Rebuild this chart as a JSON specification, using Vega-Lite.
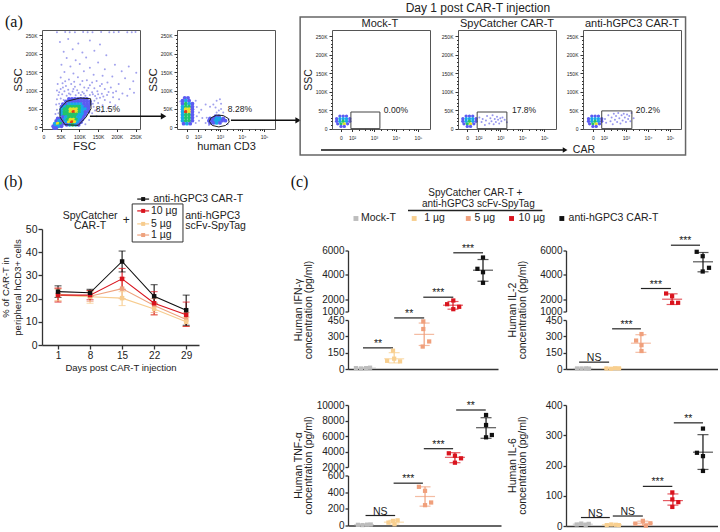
{"$schema":"https://vega.github.io/schema/vega-lite/v6.json","padding":{"left":0,"top":1,"right":0,"bottom":0},"background":"white","spacing":16,"resolve":{"scale":{"color":"independent"}},
"config":{"font":"Liberation Sans","view":{"stroke":null},"axis":{"grid":false,"labelColor":"#222","titleColor":"#222","titleFontWeight":"normal","domainColor":"#333","tickColor":"#333"},"title":{"fontWeight":"normal","fontSize":11,"color":"#222","offset":1}},
"datasets":{
"flow":[
{"p":"a","x":40,"y":258,"d":0},{"p":"a","x":62,"y":259,"d":0},{"p":"a","x":88,"y":258,"d":0},{"p":"a","x":110,"y":259,"d":0},{"p":"a","x":135,"y":258,"d":0},{"p":"a","x":158,"y":259,"d":0},{"p":"a","x":180,"y":258,"d":0},{"p":"a","x":205,"y":259,"d":0},{"p":"a","x":228,"y":258,"d":0},{"p":"a","x":250,"y":259,"d":0},{"p":"a","x":74,"y":258,"d":0},{"p":"a","x":122,"y":258,"d":0},{"p":"a","x":192,"y":258,"d":0},{"p":"a","x":240,"y":258,"d":0},
{"p":"a","x":48,"y":232,"d":0},{"p":"a","x":70,"y":240,"d":0},{"p":"a","x":97,"y":228,"d":0},{"p":"a","x":128,"y":236,"d":0},{"p":"a","x":155,"y":225,"d":0},{"p":"a","x":58,"y":205,"d":0},{"p":"a","x":82,"y":212,"d":0},{"p":"a","x":108,"y":203,"d":0},{"p":"a","x":140,"y":208,"d":0},{"p":"a","x":172,"y":196,"d":0},{"p":"a","x":66,"y":188,"d":0},{"p":"a","x":90,"y":182,"d":0},{"p":"a","x":118,"y":190,"d":0},{"p":"a","x":150,"y":176,"d":0},{"p":"a","x":195,"y":170,"d":0},{"p":"a","x":232,"y":165,"d":0},{"p":"a","x":52,"y":170,"d":0},{"p":"a","x":76,"y":165,"d":0},{"p":"a","x":101,"y":172,"d":0},{"p":"a","x":128,"y":162,"d":0},{"p":"a","x":168,"y":158,"d":0},{"p":"a","x":213,"y":152,"d":0},{"p":"a","x":252,"y":148,"d":0},
{"p":"a","x":60,"y":150,"d":0},{"p":"a","x":84,"y":146,"d":0},{"p":"a","x":112,"y":152,"d":0},{"p":"a","x":138,"y":143,"d":0},{"p":"a","x":162,"y":140,"d":0},{"p":"a","x":188,"y":138,"d":0},{"p":"a","x":222,"y":133,"d":0},{"p":"a","x":244,"y":125,"d":0},{"p":"a","x":50,"y":135,"d":0},{"p":"a","x":72,"y":130,"d":0},{"p":"a","x":96,"y":136,"d":0},{"p":"a","x":120,"y":128,"d":0},{"p":"a","x":146,"y":126,"d":0},{"p":"a","x":175,"y":122,"d":0},{"p":"a","x":205,"y":118,"d":0},{"p":"a","x":235,"y":104,"d":0},
{"p":"a","x":42,"y":118,"d":0},{"p":"a","x":55,"y":120,"d":0},{"p":"a","x":64,"y":112,"d":0},{"p":"a","x":78,"y":118,"d":0},{"p":"a","x":88,"y":110,"d":0},{"p":"a","x":102,"y":116,"d":0},{"p":"a","x":113,"y":108,"d":0},{"p":"a","x":128,"y":114,"d":0},{"p":"a","x":140,"y":106,"d":0},{"p":"a","x":155,"y":112,"d":0},{"p":"a","x":168,"y":104,"d":0},{"p":"a","x":184,"y":108,"d":0},{"p":"a","x":198,"y":98,"d":0},{"p":"a","x":215,"y":92,"d":0},{"p":"a","x":228,"y":86,"d":0},{"p":"a","x":246,"y":94,"d":0},
{"p":"a","x":40,"y":100,"d":0},{"p":"a","x":50,"y":104,"d":0},{"p":"a","x":60,"y":98,"d":0},{"p":"a","x":70,"y":102,"d":0},{"p":"a","x":82,"y":97,"d":0},{"p":"a","x":94,"y":101,"d":0},{"p":"a","x":108,"y":96,"d":0},{"p":"a","x":120,"y":100,"d":0},{"p":"a","x":134,"y":95,"d":0},{"p":"a","x":148,"y":98,"d":0},{"p":"a","x":160,"y":91,"d":0},{"p":"a","x":174,"y":88,"d":0},{"p":"a","x":190,"y":82,"d":0},{"p":"a","x":206,"y":76,"d":0},
{"p":"a","x":44,"y":88,"d":0},{"p":"a","x":54,"y":90,"d":0},{"p":"a","x":66,"y":86,"d":0},{"p":"a","x":76,"y":89,"d":0},{"p":"a","x":90,"y":87,"d":0},{"p":"a","x":104,"y":88,"d":0},{"p":"a","x":116,"y":86,"d":0},{"p":"a","x":128,"y":88,"d":0},{"p":"a","x":142,"y":85,"d":0},{"p":"a","x":155,"y":80,"d":0},{"p":"a","x":168,"y":74,"d":0},{"p":"a","x":182,"y":68,"d":0},{"p":"a","x":196,"y":60,"d":0},{"p":"a","x":40,"y":76,"d":0},{"p":"a","x":50,"y":78,"d":0},{"p":"a","x":58,"y":74,"d":0},{"p":"a","x":140,"y":72,"d":0},{"p":"a","x":150,"y":66,"d":0},{"p":"a","x":162,"y":60,"d":0},{"p":"a","x":176,"y":52,"d":0},{"p":"a","x":38,"y":62,"d":0},{"p":"a","x":46,"y":64,"d":0},{"p":"a","x":138,"y":56,"d":0},{"p":"a","x":148,"y":50,"d":0},{"p":"a","x":160,"y":42,"d":0},{"p":"a","x":40,"y":48,"d":0},{"p":"a","x":36,"y":36,"d":0},{"p":"a","x":44,"y":38,"d":0},{"p":"a","x":134,"y":38,"d":0},{"p":"a","x":146,"y":30,"d":0},{"p":"a","x":126,"y":20,"d":0},{"p":"a","x":116,"y":8,"d":0},
{"p":"a","x":46,"y":95,"d":0},{"p":"a","x":56,"y":108,"d":0},{"p":"a","x":72,"y":92,"d":0},{"p":"a","x":84,"y":104,"d":0},{"p":"a","x":98,"y":93,"d":0},{"p":"a","x":112,"y":92,"d":0},{"p":"a","x":124,"y":107,"d":0},{"p":"a","x":136,"y":90,"d":0},{"p":"a","x":150,"y":90,"d":0},{"p":"a","x":164,"y":84,"d":0},{"p":"a","x":178,"y":96,"d":0},{"p":"a","x":62,"y":125,"d":0},{"p":"a","x":86,"y":124,"d":0},{"p":"a","x":108,"y":126,"d":0},{"p":"a","x":134,"y":122,"d":0},{"p":"a","x":160,"y":118,"d":0},{"p":"a","x":190,"y":94,"d":0},{"p":"a","x":146,"y":78,"d":0},{"p":"a","x":136,"y":64,"d":0},{"p":"a","x":142,"y":46,"d":0},
{"p":"a","x":72,"y":77,"d":1},{"p":"a","x":80,"y":77,"d":1},{"p":"a","x":88,"y":77,"d":1},{"p":"a","x":96,"y":77,"d":1},{"p":"a","x":104,"y":77,"d":1},{"p":"a","x":112,"y":77,"d":1},{"p":"a","x":120,"y":77,"d":1},
{"p":"a","x":64,"y":70,"d":1},{"p":"a","x":72,"y":70,"d":1},{"p":"a","x":80,"y":70,"d":1},{"p":"a","x":88,"y":70,"d":1},{"p":"a","x":96,"y":70,"d":1},{"p":"a","x":104,"y":70,"d":1},{"p":"a","x":112,"y":70,"d":1},{"p":"a","x":120,"y":70,"d":1},{"p":"a","x":128,"y":70,"d":1},
{"p":"a","x":56,"y":63,"d":1},{"p":"a","x":64,"y":63,"d":1},{"p":"a","x":72,"y":63,"d":2},{"p":"a","x":80,"y":63,"d":2},{"p":"a","x":88,"y":63,"d":2},{"p":"a","x":96,"y":63,"d":2},{"p":"a","x":104,"y":63,"d":2},{"p":"a","x":112,"y":63,"d":1},{"p":"a","x":120,"y":63,"d":1},{"p":"a","x":128,"y":63,"d":1},
{"p":"a","x":52,"y":56,"d":1},{"p":"a","x":60,"y":56,"d":2},{"p":"a","x":68,"y":56,"d":3},{"p":"a","x":76,"y":56,"d":3},{"p":"a","x":84,"y":56,"d":3},{"p":"a","x":92,"y":56,"d":3},{"p":"a","x":100,"y":56,"d":3},{"p":"a","x":108,"y":56,"d":2},{"p":"a","x":116,"y":56,"d":1},{"p":"a","x":124,"y":56,"d":1},
{"p":"a","x":52,"y":49,"d":2},{"p":"a","x":60,"y":49,"d":3},{"p":"a","x":68,"y":49,"d":3},{"p":"a","x":76,"y":49,"d":4},{"p":"a","x":84,"y":49,"d":4},{"p":"a","x":92,"y":49,"d":4},{"p":"a","x":100,"y":49,"d":3},{"p":"a","x":108,"y":49,"d":2},{"p":"a","x":116,"y":49,"d":2},{"p":"a","x":124,"y":49,"d":1},
{"p":"a","x":52,"y":42,"d":2},{"p":"a","x":60,"y":42,"d":3},{"p":"a","x":68,"y":42,"d":3},{"p":"a","x":76,"y":42,"d":4},{"p":"a","x":84,"y":42,"d":5},{"p":"a","x":92,"y":42,"d":4},{"p":"a","x":100,"y":42,"d":3},{"p":"a","x":108,"y":42,"d":2},{"p":"a","x":116,"y":42,"d":1},{"p":"a","x":124,"y":42,"d":1},
{"p":"a","x":52,"y":35,"d":2},{"p":"a","x":60,"y":35,"d":3},{"p":"a","x":68,"y":35,"d":3},{"p":"a","x":76,"y":35,"d":3},{"p":"a","x":84,"y":35,"d":3},{"p":"a","x":92,"y":35,"d":3},{"p":"a","x":100,"y":35,"d":2},{"p":"a","x":108,"y":35,"d":2},{"p":"a","x":116,"y":35,"d":1},
{"p":"a","x":56,"y":28,"d":1},{"p":"a","x":64,"y":28,"d":2},{"p":"a","x":72,"y":28,"d":3},{"p":"a","x":80,"y":28,"d":3},{"p":"a","x":88,"y":28,"d":3},{"p":"a","x":96,"y":28,"d":2},{"p":"a","x":104,"y":28,"d":2},{"p":"a","x":112,"y":28,"d":1},
{"p":"a","x":60,"y":21,"d":2},{"p":"a","x":68,"y":21,"d":3},{"p":"a","x":76,"y":21,"d":4},{"p":"a","x":84,"y":21,"d":4},{"p":"a","x":92,"y":21,"d":3},{"p":"a","x":100,"y":21,"d":2},{"p":"a","x":108,"y":21,"d":1},
{"p":"a","x":64,"y":14,"d":2},{"p":"a","x":72,"y":14,"d":4},{"p":"a","x":80,"y":14,"d":5},{"p":"a","x":88,"y":14,"d":4},{"p":"a","x":96,"y":14,"d":2},{"p":"a","x":104,"y":14,"d":1},
{"p":"a","x":66,"y":7,"d":1},{"p":"a","x":74,"y":7,"d":2},{"p":"a","x":82,"y":7,"d":3},{"p":"a","x":90,"y":7,"d":2},{"p":"a","x":98,"y":7,"d":1},
{"p":"a","x":42,"y":24,"d":1},{"p":"a","x":50,"y":24,"d":1},{"p":"a","x":38,"y":17,"d":1},{"p":"a","x":46,"y":17,"d":2},{"p":"a","x":54,"y":17,"d":1},{"p":"a","x":34,"y":10,"d":2},{"p":"a","x":42,"y":10,"d":4},{"p":"a","x":50,"y":10,"d":3},{"p":"a","x":58,"y":10,"d":1},{"p":"a","x":30,"y":3,"d":1},{"p":"a","x":36,"y":3,"d":2},{"p":"a","x":44,"y":3,"d":2},{"p":"a","x":52,"y":3,"d":1},{"p":"a","x":32,"y":-2,"d":1},{"p":"a","x":38,"y":-2,"d":1},
{"p":"b","x":1.2,"y":70,"d":0},{"p":"b","x":1.9,"y":72,"d":0},{"p":"b","x":1.95,"y":55,"d":0},{"p":"b","x":2.05,"y":40,"d":0},{"p":"b","x":2.2,"y":25,"d":0},{"p":"b","x":1.95,"y":30,"d":0},{"p":"b","x":2.05,"y":18,"d":0},{"p":"b","x":1.9,"y":12,"d":0},{"p":"b","x":2.15,"y":48,"d":0},{"p":"b","x":2.35,"y":62,"d":0},{"p":"b","x":2.55,"y":56,"d":0},{"p":"b","x":2.7,"y":62,"d":0},{"p":"b","x":2.85,"y":72,"d":0},{"p":"b","x":3,"y":76,"d":0},{"p":"b","x":3.05,"y":64,"d":0},{"p":"b","x":2.8,"y":54,"d":0},{"p":"b","x":2.95,"y":46,"d":0},{"p":"b","x":2.85,"y":40,"d":0},{"p":"b","x":3.05,"y":50,"d":0},{"p":"b","x":3.15,"y":40,"d":0},{"p":"b","x":2.4,"y":26,"d":0},{"p":"b","x":2.35,"y":12,"d":0},{"p":"b","x":3.4,"y":22,"d":0},{"p":"b","x":3.35,"y":8,"d":0},{"p":"b","x":2.5,"y":6,"d":0},
{"p":"b","x":1.4,"y":80,"d":1},{"p":"b","x":1.55,"y":80,"d":1},{"p":"b","x":1.3,"y":72,"d":1},{"p":"b","x":1.45,"y":72,"d":2},{"p":"b","x":1.6,"y":72,"d":1},{"p":"b","x":1.3,"y":64,"d":1},{"p":"b","x":1.45,"y":64,"d":3},{"p":"b","x":1.6,"y":64,"d":2},{"p":"b","x":1.75,"y":64,"d":1},{"p":"b","x":1.3,"y":56,"d":2},{"p":"b","x":1.45,"y":56,"d":3},{"p":"b","x":1.6,"y":56,"d":3},{"p":"b","x":1.75,"y":56,"d":1},{"p":"b","x":1.3,"y":49,"d":2},{"p":"b","x":1.45,"y":49,"d":4},{"p":"b","x":1.6,"y":49,"d":4},{"p":"b","x":1.75,"y":49,"d":1},{"p":"b","x":1.3,"y":42,"d":2},{"p":"b","x":1.45,"y":42,"d":5},{"p":"b","x":1.6,"y":42,"d":4},{"p":"b","x":1.75,"y":42,"d":1},{"p":"b","x":1.3,"y":34,"d":2},{"p":"b","x":1.45,"y":34,"d":3},{"p":"b","x":1.6,"y":34,"d":3},{"p":"b","x":1.75,"y":34,"d":1},{"p":"b","x":1.3,"y":26,"d":2},{"p":"b","x":1.45,"y":26,"d":3},{"p":"b","x":1.6,"y":26,"d":3},{"p":"b","x":1.75,"y":26,"d":1},{"p":"b","x":1.3,"y":18,"d":2},{"p":"b","x":1.45,"y":18,"d":3},{"p":"b","x":1.6,"y":18,"d":3},{"p":"b","x":1.75,"y":18,"d":1},{"p":"b","x":1.35,"y":10,"d":1},{"p":"b","x":1.5,"y":10,"d":2},{"p":"b","x":1.65,"y":10,"d":1},
{"p":"b","x":2.8,"y":30,"d":1},{"p":"b","x":2.95,"y":30,"d":1},{"p":"b","x":2.55,"y":24,"d":1},{"p":"b","x":2.7,"y":24,"d":1},{"p":"b","x":2.85,"y":24,"d":2},{"p":"b","x":3,"y":24,"d":2},{"p":"b","x":3.15,"y":24,"d":1},{"p":"b","x":2.5,"y":18,"d":1},{"p":"b","x":2.65,"y":18,"d":1},{"p":"b","x":2.8,"y":18,"d":2},{"p":"b","x":2.95,"y":18,"d":2},{"p":"b","x":3.1,"y":18,"d":1},{"p":"b","x":3.25,"y":18,"d":1},{"p":"b","x":2.55,"y":12,"d":1},{"p":"b","x":2.7,"y":12,"d":1},{"p":"b","x":2.85,"y":12,"d":2},{"p":"b","x":3,"y":12,"d":1},
{"p":"c","x":1.45,"y":34,"d":1},{"p":"c","x":1.6,"y":34,"d":1},{"p":"c","x":1.75,"y":34,"d":1},{"p":"c","x":1.3,"y":27,"d":1},{"p":"c","x":1.45,"y":27,"d":2},{"p":"c","x":1.6,"y":27,"d":2},{"p":"c","x":1.75,"y":27,"d":2},{"p":"c","x":1.9,"y":27,"d":1},{"p":"c","x":1.3,"y":20,"d":1},{"p":"c","x":1.45,"y":20,"d":2},{"p":"c","x":1.6,"y":20,"d":3},{"p":"c","x":1.75,"y":20,"d":2},{"p":"c","x":1.9,"y":20,"d":1},{"p":"c","x":1.35,"y":13,"d":1},{"p":"c","x":1.5,"y":13,"d":3},{"p":"c","x":1.65,"y":13,"d":4},{"p":"c","x":1.8,"y":13,"d":1},{"p":"c","x":1.5,"y":6,"d":1},{"p":"c","x":1.65,"y":6,"d":1},
{"p":"d","x":2.05,"y":30,"d":0},{"p":"d","x":2.15,"y":18,"d":0},{"p":"d","x":2.2,"y":26,"d":0},{"p":"d","x":2.3,"y":10,"d":0},{"p":"d","x":2.35,"y":22,"d":0},{"p":"d","x":2.4,"y":34,"d":0},{"p":"d","x":2.5,"y":14,"d":0},{"p":"d","x":2.55,"y":28,"d":0},{"p":"d","x":2.6,"y":20,"d":0},{"p":"d","x":2.65,"y":36,"d":0},{"p":"d","x":2.7,"y":12,"d":0},{"p":"d","x":2.75,"y":26,"d":0},{"p":"d","x":2.8,"y":18,"d":0},{"p":"d","x":2.85,"y":32,"d":0},{"p":"d","x":2.9,"y":24,"d":0},{"p":"d","x":2.95,"y":14,"d":0},{"p":"d","x":3,"y":28,"d":0},{"p":"d","x":3.05,"y":20,"d":0},{"p":"d","x":3.1,"y":30,"d":0},{"p":"d","x":3.2,"y":24,"d":0},{"p":"d","x":3.3,"y":17,"d":0},
{"p":"e","x":2.05,"y":26,"d":0},{"p":"e","x":2.1,"y":16,"d":0},{"p":"e","x":2.2,"y":36,"d":0},{"p":"e","x":2.3,"y":20,"d":0},{"p":"e","x":2.35,"y":30,"d":0},{"p":"e","x":2.4,"y":12,"d":0},{"p":"e","x":2.45,"y":40,"d":0},{"p":"e","x":2.5,"y":24,"d":0},{"p":"e","x":2.55,"y":34,"d":0},{"p":"e","x":2.6,"y":18,"d":0},{"p":"e","x":2.65,"y":42,"d":0},{"p":"e","x":2.7,"y":28,"d":0},{"p":"e","x":2.75,"y":14,"d":0},{"p":"e","x":2.8,"y":36,"d":0},{"p":"e","x":2.85,"y":22,"d":0},{"p":"e","x":2.9,"y":40,"d":0},{"p":"e","x":2.95,"y":30,"d":0},{"p":"e","x":3,"y":18,"d":0},{"p":"e","x":3.05,"y":38,"d":0},{"p":"e","x":3.1,"y":26,"d":0},{"p":"e","x":3.15,"y":34,"d":0},{"p":"e","x":3.2,"y":20,"d":0},{"p":"e","x":3.25,"y":42,"d":0},{"p":"e","x":3.35,"y":28,"d":0}
],
"gate1":[{"o":1,"x":48,"y":50.5},{"o":2,"x":66,"y":70.6},{"o":3,"x":101.6,"y":79.6},{"o":4,"x":130,"y":77.7},{"o":5,"x":131,"y":50.5},{"o":6,"x":118,"y":28},{"o":7,"x":97,"y":5.4},{"o":8,"x":61.5,"y":7},{"o":9,"x":48,"y":28},{"o":10,"x":48,"y":50.5}],
"gate2":[{"o":1,"x":2.52,"y":16},{"o":2,"x":2.6,"y":26},{"o":3,"x":2.85,"y":33},{"o":4,"x":3.15,"y":32},{"o":5,"x":3.38,"y":24},{"o":6,"x":3.42,"y":14},{"o":7,"x":3.25,"y":5},{"o":8,"x":2.95,"y":1},{"o":9,"x":2.65,"y":5},{"o":10,"x":2.52,"y":16}],
"bs":[{"s":"1 µg","day":1,"m":21.8,"l":19,"h":24.5},{"s":"1 µg","day":8,"m":21,"l":18.8,"h":23.5},{"s":"1 µg","day":15,"m":24.3,"l":20,"h":29},{"s":"1 µg","day":22,"m":17,"l":14,"h":20},{"s":"1 µg","day":29,"m":11,"l":8,"h":14},
{"s":"5 µg","day":1,"m":21.5,"l":19,"h":24},{"s":"5 µg","day":8,"m":20.8,"l":18,"h":23},{"s":"5 µg","day":15,"m":20.2,"l":17,"h":23},{"s":"5 µg","day":22,"m":15.5,"l":13,"h":18},{"s":"5 µg","day":29,"m":10,"l":8,"h":12},
{"s":"10 µg","day":1,"m":21.5,"l":18.5,"h":24.5},{"s":"10 µg","day":8,"m":21.5,"l":19.5,"h":23.5},{"s":"10 µg","day":15,"m":28.5,"l":24,"h":33},{"s":"10 µg","day":22,"m":18,"l":13,"h":23},{"s":"10 µg","day":29,"m":13,"l":8,"h":18.5},
{"s":"anti-hGPC3 CAR-T","day":1,"m":23,"l":20.5,"h":25.5},{"s":"anti-hGPC3 CAR-T","day":8,"m":22.5,"l":21,"h":24},{"s":"anti-hGPC3 CAR-T","day":15,"m":36,"l":31.5,"h":40.5},{"s":"anti-hGPC3 CAR-T","day":22,"m":21,"l":18,"h":26},{"s":"anti-hGPC3 CAR-T","day":29,"m":15,"l":8.5,"h":21.5}],
"bleg":[{"s":"anti-hGPC3 CAR-T","x":18.3,"y":62.9},{"s":"anti-hGPC3 CAR-T","x":20.9,"y":62.9},{"s":"10 µg","x":18.3,"y":57.8},{"s":"10 µg","x":20.9,"y":57.8},{"s":"5 µg","x":18.3,"y":52.2},{"s":"5 µg","x":20.9,"y":52.2},{"s":"1 µg","x":18.3,"y":47.4},{"s":"1 µg","x":20.9,"y":47.4}],
"pts":[
{"p":"IFNl","g":"Mock-T","x":0.66,"y":8},{"p":"IFNl","g":"Mock-T","x":0.83,"y":5},{"p":"IFNl","g":"Mock-T","x":1,"y":8},{"p":"IFNl","g":"Mock-T","x":1.14,"y":12},
{"p":"IFNl","g":"1 µg","x":1.72,"y":75},{"p":"IFNl","g":"1 µg","x":1.92,"y":168},{"p":"IFNl","g":"1 µg","x":1.96,"y":95},{"p":"IFNl","g":"1 µg","x":2.16,"y":70},
{"p":"IFNl","g":"5 µg","x":2.95,"y":437},{"p":"IFNl","g":"5 µg","x":2.95,"y":367},{"p":"IFNl","g":"5 µg","x":3.15,"y":253},{"p":"IFNl","g":"5 µg","x":2.93,"y":206},
{"p":"IFNu","g":"10 µg","x":3.97,"y":1902},{"p":"IFNu","g":"10 µg","x":3.76,"y":1598},{"p":"IFNu","g":"10 µg","x":4.17,"y":1385},{"p":"IFNu","g":"10 µg","x":3.97,"y":1190},
{"p":"IFNu","g":"anti","x":4.98,"y":5426},{"p":"IFNu","g":"anti","x":4.79,"y":4500},{"p":"IFNu","g":"anti","x":4.98,"y":4220},{"p":"IFNu","g":"anti","x":4.98,"y":3350},
{"p":"IL2l","g":"Mock-T","x":0.8,"y":5},{"p":"IL2l","g":"Mock-T","x":0.95,"y":5},{"p":"IL2l","g":"Mock-T","x":1.1,"y":6},{"p":"IL2l","g":"Mock-T","x":1.2,"y":4},
{"p":"IL2l","g":"1 µg","x":1.78,"y":5},{"p":"IL2l","g":"1 µg","x":1.93,"y":2},{"p":"IL2l","g":"1 µg","x":2.07,"y":7},{"p":"IL2l","g":"1 µg","x":2.2,"y":6},
{"p":"IL2l","g":"5 µg","x":2.95,"y":321},{"p":"IL2l","g":"5 µg","x":2.77,"y":261},{"p":"IL2l","g":"5 µg","x":2.95,"y":219},{"p":"IL2l","g":"5 µg","x":2.95,"y":165},
{"p":"IL2u","g":"10 µg","x":3.77,"y":2475},{"p":"IL2u","g":"10 µg","x":3.97,"y":2254},{"p":"IL2u","g":"10 µg","x":3.97,"y":1713},{"p":"IL2u","g":"10 µg","x":4.17,"y":1713},
{"p":"IL2u","g":"anti","x":4.79,"y":5893},{"p":"IL2u","g":"anti","x":4.99,"y":5533},{"p":"IL2u","g":"anti","x":5.2,"y":4582},{"p":"IL2u","g":"anti","x":4.99,"y":4279},
{"p":"TNFl","g":"Mock-T","x":0.8,"y":8},{"p":"TNFl","g":"Mock-T","x":0.95,"y":5},{"p":"TNFl","g":"Mock-T","x":1.1,"y":10},{"p":"TNFl","g":"Mock-T","x":1.22,"y":12},
{"p":"TNFl","g":"1 µg","x":1.8,"y":35},{"p":"TNFl","g":"1 µg","x":1.95,"y":55},{"p":"TNFl","g":"1 µg","x":2.1,"y":62},{"p":"TNFl","g":"1 µg","x":2,"y":15},
{"p":"TNFl","g":"5 µg","x":2.8,"y":464},{"p":"TNFl","g":"5 µg","x":3,"y":416},{"p":"TNFl","g":"5 µg","x":3.2,"y":276},{"p":"TNFl","g":"5 µg","x":3,"y":244},
{"p":"TNFu","g":"10 µg","x":3.78,"y":3768},{"p":"TNFu","g":"10 µg","x":3.98,"y":3458},{"p":"TNFu","g":"10 µg","x":4.18,"y":3120},{"p":"TNFu","g":"10 µg","x":3.98,"y":2555},
{"p":"TNFu","g":"anti","x":5,"y":8710},{"p":"TNFu","g":"anti","x":5,"y":7419},{"p":"TNFu","g":"anti","x":5.19,"y":6129},{"p":"TNFu","g":"anti","x":5,"y":5830},
{"p":"IL6","g":"Mock-T","x":0.8,"y":5},{"p":"IL6","g":"Mock-T","x":0.95,"y":8},{"p":"IL6","g":"Mock-T","x":1.1,"y":4},{"p":"IL6","g":"Mock-T","x":1.2,"y":7},
{"p":"IL6","g":"1 µg","x":1.8,"y":3},{"p":"IL6","g":"1 µg","x":1.95,"y":5},{"p":"IL6","g":"1 µg","x":2.1,"y":4},{"p":"IL6","g":"1 µg","x":2.2,"y":3},
{"p":"IL6","g":"5 µg","x":2.75,"y":8},{"p":"IL6","g":"5 µg","x":3,"y":17},{"p":"IL6","g":"5 µg","x":3.1,"y":1},{"p":"IL6","g":"5 µg","x":3.25,"y":9},
{"p":"IL6","g":"10 µg","x":3.98,"y":111},{"p":"IL6","g":"10 µg","x":3.98,"y":88},{"p":"IL6","g":"10 µg","x":4.18,"y":79},{"p":"IL6","g":"10 µg","x":3.98,"y":63},
{"p":"IL6","g":"anti","x":5,"y":322},{"p":"IL6","g":"anti","x":4.8,"y":242},{"p":"IL6","g":"anti","x":5,"y":231},{"p":"IL6","g":"anti","x":5,"y":182}],
"st":[
{"p":"IFNl","g":"Mock-T","x":1,"m":8,"l":4,"h":12},{"p":"IFNl","g":"1 µg","x":1.96,"m":94,"l":56,"h":150},{"p":"IFNl","g":"5 µg","x":2.98,"m":318,"l":216,"h":422},{"p":"IFNu","g":"10 µg","x":3.96,"m":1516,"l":1190,"h":1820},{"p":"IFNu","g":"anti","x":4.98,"m":4385,"l":3480,"h":5260},
{"p":"IL2l","g":"Mock-T","x":1,"m":5,"l":3,"h":7},{"p":"IL2l","g":"1 µg","x":1.97,"m":5,"l":3,"h":7},{"p":"IL2l","g":"5 µg","x":2.93,"m":237,"l":153,"h":315},{"p":"IL2u","g":"10 µg","x":3.97,"m":2008,"l":1574,"h":2450},{"p":"IL2u","g":"anti","x":5,"m":5074,"l":4254,"h":5836},
{"p":"TNFl","g":"Mock-T","x":1,"m":9,"l":4,"h":14},{"p":"TNFl","g":"1 µg","x":1.98,"m":40,"l":18,"h":62},{"p":"TNFl","g":"5 µg","x":3,"m":348,"l":232,"h":464},{"p":"TNFu","g":"10 µg","x":3.98,"m":3247,"l":2555,"h":3845},{"p":"TNFu","g":"anti","x":5,"m":7071,"l":5703,"h":8361},
{"p":"IL6","g":"Mock-T","x":1,"m":6,"l":3,"h":9},{"p":"IL6","g":"1 µg","x":1.97,"m":4,"l":2,"h":6},{"p":"IL6","g":"5 µg","x":3,"m":9,"l":2,"h":16},{"p":"IL6","g":"10 µg","x":4,"m":84,"l":69,"h":106},{"p":"IL6","g":"anti","x":5,"m":244,"l":187,"h":302}],
"br":[
{"p":"IFNl","x":0.9,"xe":1.92,"xm":1.41,"y":194,"t":"**"},{"p":"IFNl","x":1.96,"xe":2.98,"xm":2.47,"y":469,"t":"**"},{"p":"IFNu","x":2.95,"xe":3.97,"xm":3.46,"y":2172,"t":"***"},{"p":"IFNu","x":3.97,"xe":4.98,"xm":4.47,"y":5811,"t":"***"},
{"p":"IL2l","x":0.87,"xe":1.87,"xm":1.37,"y":63,"t":"NS"},{"p":"IL2l","x":1.97,"xe":2.93,"xm":2.45,"y":369,"t":"***"},{"p":"IL2u","x":2.93,"xe":3.93,"xm":3.43,"y":2885,"t":"***"},{"p":"IL2u","x":3.93,"xe":4.9,"xm":4.41,"y":6434,"t":"***"},
{"p":"TNFl","x":1.05,"xe":2.02,"xm":1.53,"y":120,"t":"NS"},{"p":"TNFl","x":1.97,"xe":2.93,"xm":2.45,"y":508,"t":"***"},{"p":"TNFu","x":2.96,"xe":3.92,"xm":3.44,"y":4361,"t":"***"},{"p":"TNFu","x":4.02,"xe":4.99,"xm":4.5,"y":9355,"t":"**"},
{"p":"IL6","x":0.94,"xe":1.9,"xm":1.42,"y":28,"t":"NS"},{"p":"IL6","x":2,"xe":3,"xm":2.5,"y":33,"t":"NS"},{"p":"IL6","x":3,"xe":3.98,"xm":3.49,"y":131,"t":"***"},{"p":"IL6","x":4.03,"xe":5,"xm":4.51,"y":341,"t":"**"}]
},
"vconcat":[
{"hconcat":[
{"width":98,"height":99,"view":{"stroke":"#555","strokeWidth":1},"encoding":{
"x":{"type":"quantitative","field":"x","title":"FSC","scale":{"domain":[0,262],"nice":false},"axis":{"values":[0,50,100,150,200,250],"labelExpr":"datum.value==0?'0':datum.value+'K'","labelFontSize":5,"tickSize":2.5,"labelPadding":3,"titleFontSize":11.5,"titlePadding":1,"titleX":42,"domain":false}},
"y":{"type":"quantitative","field":"y","title":"SSC","scale":{"domain":[-4.6,264.4],"nice":false},"axis":{"values":[0,10,20,30,40,50,60,70,80,90,100,110,120,130,140,150,160,170,180,190,200,210,220,230,240,250],"labelExpr":"datum.value%50==0?(datum.value==0?'0':datum.value+'K'):''","labelFontSize":5,"labelOverlap":false,"tickSize":{"condition":{"test":"datum.value%50==0","value":3},"value":1.5},"labelPadding":2,"titleFontSize":11.5,"titlePadding":2,"domain":false}}},
"layer":[
{"data":{"name":"flow"},"transform":[{"filter":"datum.p=='a'&&datum.d==0"}],"mark":{"type":"circle","size":4,"color":"#8a8ae8","opacity":0.8}},
{"data":{"name":"flow"},"transform":[{"filter":"datum.p=='a'&&datum.d>0"}],"mark":{"type":"circle","size":15,"opacity":1},"encoding":{"color":{"field":"d","type":"ordinal","legend":null,"scale":{"domain":[1,2,3,4,5],"range":["#5c5cf2","#18a8e8","#22c46a","#e6e224","#e63a18"]}}}},
{"data":{"name":"gate1"},"mark":{"type":"line","color":"#222","strokeWidth":1},"encoding":{"order":{"field":"o","type":"quantitative"}}},
{"data":{"values":[{"x":128,"xe":322,"y":30}]},"mark":{"type":"rule","color":"#111","strokeWidth":1.5},"encoding":{"x2":{"field":"xe"}}},
{"data":{"values":[{"x":325,"y":30}]},"mark":{"type":"point","shape":"triangle-right","filled":true,"size":40,"color":"#111","opacity":1}},
{"data":{"values":[{"x":144,"y":49,"t":"81.5%"}]},"mark":{"type":"text","align":"left","fontSize":8.5,"color":"#222"},"encoding":{"text":{"field":"t"}}},
{"data":{"values":[{"x":-99,"y":285,"t":"(a)"}]},"mark":{"type":"text","align":"left","fontSize":16,"font":"Liberation Serif","color":"#111"},"encoding":{"text":{"field":"t"}}}
]},
{"width":37,"height":0,"data":{"values":[]},"mark":"point"},
{"width":98,"height":99,"view":{"stroke":"#555","strokeWidth":1},"encoding":{
"x":{"type":"quantitative","field":"x","title":"human CD3","scale":{"domain":[1.05,5.5],"nice":false},"axis":{"values":[1.5,2,2.3,2.6,2.8,2.9,3,3.3,3.6,3.8,3.9,4,4.3,4.6,4.8,4.9,5],"labelExpr":"datum.value==1.5?'0':datum.value==2?'10²':datum.value==3?'10³':datum.value==4?'10⁴':datum.value==5?'10⁵':''","labelFontSize":5,"labelOverlap":false,"tickSize":{"condition":{"test":"datum.value==1.5||datum.value%1==0","value":2.5},"value":1.5},"labelPadding":3,"titleFontSize":11,"titlePadding":1,"domain":false}},
"y":{"type":"quantitative","field":"y","title":"SSC","scale":{"domain":[-4.6,264.4],"nice":false},"axis":{"values":[0,10,20,30,40,50,60,70,80,90,100,110,120,130,140,150,160,170,180,190,200,210,220,230,240,250],"labelExpr":"datum.value%50==0?(datum.value==0?'0':datum.value+'K'):''","labelFontSize":5,"labelOverlap":false,"tickSize":{"condition":{"test":"datum.value%50==0","value":3},"value":1.5},"labelPadding":2,"titleFontSize":11.5,"titlePadding":2,"domain":false}}},
"layer":[
{"data":{"name":"flow"},"transform":[{"filter":"datum.p=='b'&&datum.d==0"}],"mark":{"type":"circle","size":4,"color":"#8a8ae8","opacity":0.8}},
{"data":{"name":"flow"},"transform":[{"filter":"datum.p=='b'&&datum.d>0"}],"mark":{"type":"circle","size":15,"opacity":1},"encoding":{"color":{"field":"d","type":"ordinal","legend":null,"scale":{"domain":[1,2,3,4,5],"range":["#5c5cf2","#18a8e8","#22c46a","#e6e224","#e63a18"]}}}},
{"data":{"name":"gate2"},"mark":{"type":"line","color":"#222","strokeWidth":1},"encoding":{"order":{"field":"o","type":"quantitative"}}},
{"data":{"values":[{"x":3.5,"xe":6.45,"y":19}]},"mark":{"type":"rule","color":"#111","strokeWidth":1.5},"encoding":{"x2":{"field":"xe"}}},
{"data":{"values":[{"x":6.55,"y":19}]},"mark":{"type":"point","shape":"triangle-right","filled":true,"size":40,"color":"#111","opacity":1}},
{"data":{"values":[{"x":3.36,"y":49,"t":"8.28%"}]},"mark":{"type":"text","align":"left","fontSize":8.5,"color":"#222"},"encoding":{"text":{"field":"t"}}}
]},
{"width":57,"height":0,"data":{"values":[]},"mark":"point"},
{"width":98,"height":99,"view":{"stroke":"#555","strokeWidth":1},"encoding":{
"x":{"type":"quantitative","field":"x","title":null,"scale":{"domain":[1.09,5.55],"nice":false},"axis":{"values":[1.5,2,2.3,2.6,2.8,2.9,3,3.3,3.6,3.8,3.9,4,4.3,4.6,4.8,4.9,5],"labelExpr":"datum.value==1.5?'0':datum.value==2?'10²':datum.value==3?'10³':datum.value==4?'10⁴':datum.value==5?'10⁵':''","labelFontSize":5,"labelOverlap":false,"tickSize":{"condition":{"test":"datum.value==1.5||datum.value%1==0","value":2.5},"value":1.5},"labelPadding":4,"domain":false}},
"y":{"type":"quantitative","field":"y","title":"SSC","scale":{"domain":[-1,267],"nice":false},"axis":{"values":[0,10,20,30,40,50,60,70,80,90,100,110,120,130,140,150,160,170,180,190,200,210,220,230,240,250],"labelExpr":"datum.value%50==0?(datum.value==0?'0':datum.value+'K'):''","labelFontSize":5,"labelOverlap":false,"tickSize":{"condition":{"test":"datum.value%50==0","value":3},"value":1.5},"labelPadding":2,"titleFontSize":10.5,"titlePadding":2,"domain":false}}},
"layer":[
{"data":{"name":"flow"},"transform":[{"filter":"datum.p=='c'"}],"mark":{"type":"circle","size":11,"opacity":1},"encoding":{"color":{"field":"d","type":"ordinal","legend":null,"scale":{"domain":[1,2,3,4,5],"range":["#5c5cf2","#18a8e8","#22c46a","#e6e224","#e63a18"]}}}},
{"data":{"values":[{"x":1.95,"xe":3.27,"y":0,"ye":45}]},"mark":{"type":"rect","fillOpacity":0,"stroke":"#444","strokeWidth":1},"encoding":{"x2":{"field":"xe"},"y2":{"field":"ye"}}},
{"data":{"values":[{"x":-0.36,"xe":17.18,"y":-71.5,"ye":302.5}]},"mark":{"type":"rect","fillOpacity":0,"stroke":"#666","strokeWidth":1.5},"encoding":{"x2":{"field":"xe"},"y2":{"field":"ye"}}},
{"data":{"values":[{"x":0.59,"xe":11.6,"y":-58}]},"mark":{"type":"rule","color":"#111","strokeWidth":1.5},"encoding":{"x2":{"field":"xe"}}},
{"data":{"values":[{"x":11.7,"y":-58}]},"mark":{"type":"point","shape":"triangle-right","filled":true,"size":30,"color":"#111","opacity":1}},
{"data":{"values":[{"x":12.05,"y":-58,"t":"CAR"}]},"mark":{"type":"text","align":"left","fontSize":10.5,"color":"#222"},"encoding":{"text":{"field":"t"}}},
{"data":{"values":[{"x":7.73,"y":327,"t":"Day 1 post CAR-T injection"}]},"mark":{"type":"text","fontSize":12,"color":"#222"},"encoding":{"text":{"field":"t"}}},
{"data":{"values":[{"x":3.27,"y":284,"t":"Mock-T"}]},"mark":{"type":"text","fontSize":11,"color":"#222"},"encoding":{"text":{"field":"t"}}},
{"data":{"values":[{"x":3.45,"y":50,"t":"0.00%"}]},"mark":{"type":"text","align":"left","fontSize":8.5,"color":"#222"},"encoding":{"text":{"field":"t"}}}
]},
{"width":28,"height":0,"data":{"values":[]},"mark":"point"},
{"width":98,"height":99,"view":{"stroke":"#555","strokeWidth":1},"title":"SpyCatcher CAR-T","encoding":{
"x":{"type":"quantitative","field":"x","title":null,"scale":{"domain":[1.08,5.53],"nice":false},"axis":{"values":[1.5,2,2.3,2.6,2.8,2.9,3,3.3,3.6,3.8,3.9,4,4.3,4.6,4.8,4.9,5],"labelExpr":"datum.value==1.5?'0':datum.value==2?'10²':datum.value==3?'10³':datum.value==4?'10⁴':datum.value==5?'10⁵':''","labelFontSize":5,"labelOverlap":false,"tickSize":{"condition":{"test":"datum.value==1.5||datum.value%1==0","value":2.5},"value":1.5},"labelPadding":4,"domain":false}},
"y":{"type":"quantitative","field":"y","title":null,"scale":{"domain":[-1,267],"nice":false},"axis":{"values":[0,10,20,30,40,50,60,70,80,90,100,110,120,130,140,150,160,170,180,190,200,210,220,230,240,250],"labelExpr":"datum.value%50==0?(datum.value==0?'0':datum.value+'K'):''","labelFontSize":5,"labelOverlap":false,"tickSize":{"condition":{"test":"datum.value%50==0","value":3},"value":1.5},"labelPadding":2,"domain":false}}},
"layer":[
{"data":{"name":"flow"},"transform":[{"filter":"datum.p=='d'"}],"mark":{"type":"circle","size":4,"color":"#7c7ce8","opacity":0.8}},
{"data":{"name":"flow"},"transform":[{"filter":"datum.p=='c'"}],"mark":{"type":"circle","size":11,"opacity":1},"encoding":{"color":{"field":"d","type":"ordinal","legend":null,"scale":{"domain":[1,2,3,4,5],"range":["#5c5cf2","#18a8e8","#22c46a","#e6e224","#e63a18"]}}}},
{"data":{"values":[{"x":1.95,"xe":3.3,"y":0,"ye":45}]},"mark":{"type":"rect","fillOpacity":0,"stroke":"#444","strokeWidth":1},"encoding":{"x2":{"field":"xe"},"y2":{"field":"ye"}}},
{"data":{"values":[{"x":3.53,"y":50,"t":"17.8%"}]},"mark":{"type":"text","align":"left","fontSize":8.5,"color":"#222"},"encoding":{"text":{"field":"t"}}}
]},
{"width":27,"height":0,"data":{"values":[]},"mark":"point"},
{"width":98,"height":99,"view":{"stroke":"#555","strokeWidth":1},"title":"anti-hGPC3 CAR-T","encoding":{
"x":{"type":"quantitative","field":"x","title":null,"scale":{"domain":[1.05,5.5],"nice":false},"axis":{"values":[1.5,2,2.3,2.6,2.8,2.9,3,3.3,3.6,3.8,3.9,4,4.3,4.6,4.8,4.9,5],"labelExpr":"datum.value==1.5?'0':datum.value==2?'10²':datum.value==3?'10³':datum.value==4?'10⁴':datum.value==5?'10⁵':''","labelFontSize":5,"labelOverlap":false,"tickSize":{"condition":{"test":"datum.value==1.5||datum.value%1==0","value":2.5},"value":1.5},"labelPadding":4,"domain":false}},
"y":{"type":"quantitative","field":"y","title":null,"scale":{"domain":[-1,267],"nice":false},"axis":{"values":[0,10,20,30,40,50,60,70,80,90,100,110,120,130,140,150,160,170,180,190,200,210,220,230,240,250],"labelExpr":"datum.value%50==0?(datum.value==0?'0':datum.value+'K'):''","labelFontSize":5,"labelOverlap":false,"tickSize":{"condition":{"test":"datum.value%50==0","value":3},"value":1.5},"labelPadding":2,"domain":false}}},
"layer":[
{"data":{"name":"flow"},"transform":[{"filter":"datum.p=='e'"}],"mark":{"type":"circle","size":4,"color":"#7c7ce8","opacity":0.8}},
{"data":{"name":"flow"},"transform":[{"filter":"datum.p=='c'"}],"mark":{"type":"circle","size":11,"opacity":1},"encoding":{"color":{"field":"d","type":"ordinal","legend":null,"scale":{"domain":[1,2,3,4,5],"range":["#5c5cf2","#18a8e8","#22c46a","#e6e224","#e63a18"]}}}},
{"data":{"values":[{"x":1.9,"xe":3.27,"y":0,"ye":48}]},"mark":{"type":"rect","fillOpacity":0,"stroke":"#444","strokeWidth":1},"encoding":{"x2":{"field":"xe"},"y2":{"field":"ye"}}},
{"data":{"values":[{"x":3.45,"y":50,"t":"20.2%"}]},"mark":{"type":"text","align":"left","fontSize":8.5,"color":"#222"},"encoding":{"text":{"field":"t"}}}
]}
],"bounds":"flush","spacing":0,"resolve":{"scale":{"color":"independent"}}},
{"hconcat":[
{"width":157,"height":116,"encoding":{
"x":{"type":"quantitative","field":"day","title":"Days post CAR-T injection","scale":{"domain":[-2.5,31.8],"nice":false},"axis":{"values":[1,8,15,22,29],"labelFontSize":10,"titleFontSize":9.5,"tickSize":4,"domainWidth":1.3,"tickWidth":1.3,"labelPadding":1,"titlePadding":2}},
"y":{"type":"quantitative","field":"m","title":["% of CAR-T in","peripheral hCD3+ cells"],"scale":{"domain":[0,50],"nice":false},"axis":{"values":[0,10,20,30,40,50],"labelFontSize":10.5,"titleFontSize":9.5,"tickSize":4,"domainWidth":1.3,"tickWidth":1.3,"labelPadding":1,"titlePadding":3}},
"color":{"field":"s","type":"nominal","legend":null,"scale":{"domain":["1 µg","5 µg","10 µg","anti-hGPC3 CAR-T"],"range":["#eea27e","#f7cc8e","#d9141e","#111111"]}}},
"layer":[
{"data":{"name":"bs"},"mark":{"type":"rule","strokeWidth":1.1},"encoding":{"y":{"field":"l","type":"quantitative"},"y2":{"field":"h"}}},
{"data":{"name":"bs"},"mark":{"type":"tick","orient":"horizontal","size":7,"thickness":1.1},"encoding":{"y":{"field":"l","type":"quantitative"}}},
{"data":{"name":"bs"},"mark":{"type":"tick","orient":"horizontal","size":7,"thickness":1.1},"encoding":{"y":{"field":"h","type":"quantitative"}}},
{"data":{"name":"bs"},"mark":{"type":"line","strokeWidth":1.1},"encoding":{"detail":{"field":"s"}}},
{"data":{"name":"bs"},"mark":{"type":"square","size":20,"opacity":1}},
{"data":{"name":"bleg"},"mark":{"type":"line","strokeWidth":1.2},"encoding":{"x":{"field":"x","type":"quantitative"},"y":{"field":"y","type":"quantitative"},"detail":{"field":"s"}}},
{"data":{"values":[{"s":"anti-hGPC3 CAR-T","x":19.6,"y":62.9},{"s":"10 µg","x":19.6,"y":57.8},{"s":"5 µg","x":19.6,"y":52.2},{"s":"1 µg","x":19.6,"y":47.4}]},"mark":{"type":"square","size":16,"opacity":1},"encoding":{"x":{"field":"x","type":"quantitative"},"y":{"field":"y","type":"quantitative"}}},
{"data":{"values":[{"x":17.2,"xe":28.3,"y":44.4,"ye":60.8}]},"mark":{"type":"rect","fillOpacity":0,"stroke":"#333","strokeWidth":1},"encoding":{"x":{"field":"x","type":"quantitative"},"x2":{"field":"xe"},"y":{"field":"y","type":"quantitative"},"y2":{"field":"ye"},"color":{"value":null}}},
{"data":{"values":[{"x":21.8,"y":62.9,"t":"anti-hGPC3 CAR-T"},{"x":21.3,"y":57.8,"t":"10 µg"},{"x":21.3,"y":52.2,"t":"5 µg"},{"x":21.3,"y":47.4,"t":"1 µg"},{"x":28.8,"y":55.6,"t":"anti-hGPC3"},{"x":28.8,"y":51.3,"t":"scFv-SpyTag"}]},"mark":{"type":"text","align":"left","fontSize":10.5},"encoding":{"x":{"field":"x","type":"quantitative"},"y":{"field":"y","type":"quantitative"},"text":{"field":"t"},"color":{"value":"#222"}}},
{"data":{"values":[{"x":8,"y":55.6,"t":"SpyCatcher"},{"x":8,"y":51.3,"t":"CAR-T"}]},"mark":{"type":"text","fontSize":10.5},"encoding":{"x":{"field":"x","type":"quantitative"},"y":{"field":"y","type":"quantitative"},"text":{"field":"t"},"color":{"value":"#222"}}},
{"data":{"values":[{"x":15.9,"y":53.9,"t":"+"}]},"mark":{"type":"text","fontSize":12},"encoding":{"x":{"field":"x","type":"quantitative"},"y":{"field":"y","type":"quantitative"},"text":{"field":"t"},"color":{"value":"#222"}}},
{"data":{"values":[{"x":-10.8,"y":70.3,"t":"(b)"}]},"mark":{"type":"text","align":"left","fontSize":16,"font":"Liberation Serif"},"encoding":{"x":{"field":"x","type":"quantitative"},"y":{"field":"y","type":"quantitative"},"text":{"field":"t"},"color":{"value":"#111"}}}
]},
{"concat":[
{"width":0,"height":12.5,"data":{"values":[]},"mark":"point"},{"width":0,"height":12.5,"data":{"values":[]},"mark":"point"},{"width":0,"height":12.5,"data":{"values":[]},"mark":"point"},
{"width":150,"height":61,"encoding":{
"x":{"type":"quantitative","field":"x","scale":{"domain":[0.39,5.49],"nice":false},"axis":null},
"y":{"type":"quantitative","field":"y","title":["Human IFN-γ","concentration (pg/ml)"],"scale":{"domain":[1000,6000],"nice":false},"axis":{"values":[1000,2000,4000,6000],"format":"d","labelFontSize":10,"titleFontSize":10.5,"titleLineHeight":10.5,"tickSize":3,"domainWidth":1.3,"tickWidth":1.3,"labelPadding":1,"titleY":59,"titleX":-45}},
"color":{"field":"g","type":"nominal","legend":null,"scale":{"domain":["Mock-T","1 µg","5 µg","10 µg","anti"],"range":["#bdbdbd","#f8cf8f","#f0a07c","#d9141e","#111111"]}}},
"layer":[
{"data":{"name":"br"},"transform":[{"filter":"datum.p=='IFNu'"}],"mark":{"type":"rule","strokeWidth":1.2},"encoding":{"x2":{"field":"xe"},"color":{"value":"#222"}}},
{"data":{"name":"br"},"transform":[{"filter":"datum.p=='IFNu'"}],"mark":{"type":"text","fontSize":10.5,"baseline":"bottom","dy":1},"encoding":{"x":{"field":"xm","type":"quantitative"},"text":{"field":"t"},"color":{"value":"#222"}}},
{"data":{"name":"st"},"transform":[{"filter":"datum.p=='IFNu'"}],"mark":{"type":"rule","strokeWidth":1.2},"encoding":{"y":{"field":"l","type":"quantitative"},"y2":{"field":"h"}}},
{"data":{"name":"st"},"transform":[{"filter":"datum.p=='IFNu'"}],"mark":{"type":"tick","orient":"horizontal","size":11,"thickness":1.2},"encoding":{"y":{"field":"l","type":"quantitative"}}},
{"data":{"name":"st"},"transform":[{"filter":"datum.p=='IFNu'"}],"mark":{"type":"tick","orient":"horizontal","size":11,"thickness":1.2},"encoding":{"y":{"field":"h","type":"quantitative"}}},
{"data":{"name":"st"},"transform":[{"filter":"datum.p=='IFNu'"}],"mark":{"type":"tick","orient":"horizontal","size":20,"thickness":1.2},"encoding":{"y":{"field":"m","type":"quantitative"}}},
{"data":{"name":"pts"},"transform":[{"filter":"datum.p=='IFNu'"}],"mark":{"type":"square","size":18,"opacity":1}},
{"data":{"values":[{"x":-1.56,"y":11655,"t":"(c)"}]},"mark":{"type":"text","align":"left","fontSize":16,"font":"Liberation Serif"},"encoding":{"text":{"field":"t"},"color":{"value":"#111"}}},
{"data":{"values":[{"x":4.72,"y":10754,"t":"SpyCatcher CAR-T +"},{"x":4.82,"y":9852,"t":"anti-hGPC3 scFv-SpyTag"}]},"mark":{"type":"text","fontSize":10},"encoding":{"text":{"field":"t"},"color":{"value":"#222"}}},
{"data":{"values":[{"x":2.43,"xe":7,"y":9279}]},"mark":{"type":"rule","strokeWidth":1.3},"encoding":{"x2":{"field":"xe"},"color":{"value":"#222"}}},
{"data":{"values":[{"g":"Mock-T","x":0.66,"y":8623},{"g":"1 µg","x":2.64,"y":8623},{"g":"5 µg","x":4.48,"y":8623},{"g":"10 µg","x":5.95,"y":8623},{"g":"anti","x":7.66,"y":8623}]},"mark":{"type":"square","size":24,"opacity":1}},
{"data":{"values":[{"x":0.83,"y":8623,"t":"Mock-T"},{"x":2.98,"y":8623,"t":"1 µg"},{"x":4.69,"y":8623,"t":"5 µg"},{"x":6.19,"y":8623,"t":"10 µg"},{"x":7.89,"y":8623,"t":"anti-hGPC3 CAR-T"}]},"mark":{"type":"text","align":"left","fontSize":10.5},"encoding":{"text":{"field":"t"},"color":{"value":"#222"}}}
]},
{"width":68,"height":0,"data":{"values":[]},"mark":"point"},
{"width":152,"height":61,"encoding":{
"x":{"type":"quantitative","field":"x","scale":{"domain":[0.433,5.5],"nice":false},"axis":null},
"y":{"type":"quantitative","field":"y","title":["Human IL-2","concentration (pg/ml)"],"scale":{"domain":[1000,6000],"nice":false},"axis":{"values":[1000,2000,4000,6000],"format":"d","labelFontSize":10,"titleFontSize":10.5,"titleLineHeight":10.5,"tickSize":3,"domainWidth":1.3,"tickWidth":1.3,"labelPadding":1,"titleY":59,"titleX":-49}},
"color":{"field":"g","type":"nominal","legend":null,"scale":{"domain":["Mock-T","1 µg","5 µg","10 µg","anti"],"range":["#bdbdbd","#f8cf8f","#f0a07c","#d9141e","#111111"]}}},
"layer":[
{"data":{"name":"br"},"transform":[{"filter":"datum.p=='IL2u'"}],"mark":{"type":"rule","strokeWidth":1.2},"encoding":{"x2":{"field":"xe"},"color":{"value":"#222"}}},
{"data":{"name":"br"},"transform":[{"filter":"datum.p=='IL2u'"}],"mark":{"type":"text","fontSize":10.5,"baseline":"bottom","dy":1},"encoding":{"x":{"field":"xm","type":"quantitative"},"text":{"field":"t"},"color":{"value":"#222"}}},
{"data":{"name":"st"},"transform":[{"filter":"datum.p=='IL2u'"}],"mark":{"type":"rule","strokeWidth":1.2},"encoding":{"y":{"field":"l","type":"quantitative"},"y2":{"field":"h"}}},
{"data":{"name":"st"},"transform":[{"filter":"datum.p=='IL2u'"}],"mark":{"type":"tick","orient":"horizontal","size":11,"thickness":1.2},"encoding":{"y":{"field":"l","type":"quantitative"}}},
{"data":{"name":"st"},"transform":[{"filter":"datum.p=='IL2u'"}],"mark":{"type":"tick","orient":"horizontal","size":11,"thickness":1.2},"encoding":{"y":{"field":"h","type":"quantitative"}}},
{"data":{"name":"st"},"transform":[{"filter":"datum.p=='IL2u'"}],"mark":{"type":"tick","orient":"horizontal","size":20,"thickness":1.2},"encoding":{"y":{"field":"m","type":"quantitative"}}},
{"data":{"name":"pts"},"transform":[{"filter":"datum.p=='IL2u'"}],"mark":{"type":"square","size":18,"opacity":1}}
]},
{"width":150,"height":49,"encoding":{
"x":{"type":"quantitative","field":"x","title":null,"scale":{"domain":[0.39,5.49],"nice":false},"axis":{"values":[],"domainWidth":1.3,"ticks":false,"labels":false}},
"y":{"type":"quantitative","field":"y","title":null,"scale":{"domain":[0,450],"nice":false},"axis":{"values":[0,150,300,450],"labelFontSize":10,"tickSize":3,"domainWidth":1.3,"tickWidth":1.3,"labelPadding":1}},
"color":{"field":"g","type":"nominal","legend":null,"scale":{"domain":["Mock-T","1 µg","5 µg","10 µg","anti"],"range":["#bdbdbd","#f8cf8f","#f0a07c","#d9141e","#111111"]}}},
"layer":[
{"data":{"name":"br"},"transform":[{"filter":"datum.p=='IFNl'"}],"mark":{"type":"rule","strokeWidth":1.2},"encoding":{"x2":{"field":"xe"},"color":{"value":"#222"}}},
{"data":{"name":"br"},"transform":[{"filter":"datum.p=='IFNl'"}],"mark":{"type":"text","fontSize":10.5,"baseline":"bottom","dy":1},"encoding":{"x":{"field":"xm","type":"quantitative"},"text":{"field":"t"},"color":{"value":"#222"}}},
{"data":{"name":"st"},"transform":[{"filter":"datum.p=='IFNl'"}],"mark":{"type":"rule","strokeWidth":1.2},"encoding":{"y":{"field":"l","type":"quantitative"},"y2":{"field":"h"}}},
{"data":{"name":"st"},"transform":[{"filter":"datum.p=='IFNl'"}],"mark":{"type":"tick","orient":"horizontal","size":11,"thickness":1.2},"encoding":{"y":{"field":"l","type":"quantitative"}}},
{"data":{"name":"st"},"transform":[{"filter":"datum.p=='IFNl'"}],"mark":{"type":"tick","orient":"horizontal","size":11,"thickness":1.2},"encoding":{"y":{"field":"h","type":"quantitative"}}},
{"data":{"name":"st"},"transform":[{"filter":"datum.p=='IFNl'"}],"mark":{"type":"tick","orient":"horizontal","size":20,"thickness":1.2},"encoding":{"y":{"field":"m","type":"quantitative"}}},
{"data":{"name":"pts"},"transform":[{"filter":"datum.p=='IFNl'"}],"mark":{"type":"square","size":18,"opacity":1}}
]},
{"width":68,"height":0,"data":{"values":[]},"mark":"point"},
{"width":152,"height":49,"encoding":{
"x":{"type":"quantitative","field":"x","title":null,"scale":{"domain":[0.433,5.5],"nice":false},"axis":{"values":[],"domainWidth":1.3,"ticks":false,"labels":false}},
"y":{"type":"quantitative","field":"y","title":null,"scale":{"domain":[0,450],"nice":false},"axis":{"values":[0,150,300,450],"labelFontSize":10,"tickSize":3,"domainWidth":1.3,"tickWidth":1.3,"labelPadding":1}},
"color":{"field":"g","type":"nominal","legend":null,"scale":{"domain":["Mock-T","1 µg","5 µg","10 µg","anti"],"range":["#bdbdbd","#f8cf8f","#f0a07c","#d9141e","#111111"]}}},
"layer":[
{"data":{"name":"br"},"transform":[{"filter":"datum.p=='IL2l'"}],"mark":{"type":"rule","strokeWidth":1.2},"encoding":{"x2":{"field":"xe"},"color":{"value":"#222"}}},
{"data":{"name":"br"},"transform":[{"filter":"datum.p=='IL2l'"}],"mark":{"type":"text","fontSize":10.5,"baseline":"bottom","dy":1},"encoding":{"x":{"field":"xm","type":"quantitative"},"text":{"field":"t"},"color":{"value":"#222"}}},
{"data":{"name":"st"},"transform":[{"filter":"datum.p=='IL2l'"}],"mark":{"type":"rule","strokeWidth":1.2},"encoding":{"y":{"field":"l","type":"quantitative"},"y2":{"field":"h"}}},
{"data":{"name":"st"},"transform":[{"filter":"datum.p=='IL2l'"}],"mark":{"type":"tick","orient":"horizontal","size":11,"thickness":1.2},"encoding":{"y":{"field":"l","type":"quantitative"}}},
{"data":{"name":"st"},"transform":[{"filter":"datum.p=='IL2l'"}],"mark":{"type":"tick","orient":"horizontal","size":11,"thickness":1.2},"encoding":{"y":{"field":"h","type":"quantitative"}}},
{"data":{"name":"st"},"transform":[{"filter":"datum.p=='IL2l'"}],"mark":{"type":"tick","orient":"horizontal","size":20,"thickness":1.2},"encoding":{"y":{"field":"m","type":"quantitative"}}},
{"data":{"name":"pts"},"transform":[{"filter":"datum.p=='IL2l'"}],"mark":{"type":"square","size":18,"opacity":1}}
]},
{"width":0,"height":19,"data":{"values":[]},"mark":"point"},{"width":0,"height":19,"data":{"values":[]},"mark":"point"},{"width":0,"height":19,"data":{"values":[]},"mark":"point"},
{"vconcat":[
{"width":153,"height":62,"encoding":{
"x":{"type":"quantitative","field":"x","scale":{"domain":[0.475,5.49],"nice":false},"axis":null},
"y":{"type":"quantitative","field":"y","title":["Human TNF-α","concentration (pg/ml)"],"scale":{"domain":[2000,10000],"nice":false},"axis":{"values":[2000,4000,6000,8000,10000],"format":"d","labelFontSize":10,"titleFontSize":10.5,"titleLineHeight":10.5,"tickSize":3,"domainWidth":1.3,"tickWidth":1.3,"labelPadding":1,"titleY":60,"titleX":-45}},
"color":{"field":"g","type":"nominal","legend":null,"scale":{"domain":["Mock-T","1 µg","5 µg","10 µg","anti"],"range":["#bdbdbd","#f8cf8f","#f0a07c","#d9141e","#111111"]}}},
"layer":[
{"data":{"name":"br"},"transform":[{"filter":"datum.p=='TNFu'"}],"mark":{"type":"rule","strokeWidth":1.2},"encoding":{"x2":{"field":"xe"},"color":{"value":"#222"}}},
{"data":{"name":"br"},"transform":[{"filter":"datum.p=='TNFu'"}],"mark":{"type":"text","fontSize":10.5,"baseline":"bottom","dy":1},"encoding":{"x":{"field":"xm","type":"quantitative"},"text":{"field":"t"},"color":{"value":"#222"}}},
{"data":{"name":"st"},"transform":[{"filter":"datum.p=='TNFu'"}],"mark":{"type":"rule","strokeWidth":1.2},"encoding":{"y":{"field":"l","type":"quantitative"},"y2":{"field":"h"}}},
{"data":{"name":"st"},"transform":[{"filter":"datum.p=='TNFu'"}],"mark":{"type":"tick","orient":"horizontal","size":11,"thickness":1.2},"encoding":{"y":{"field":"l","type":"quantitative"}}},
{"data":{"name":"st"},"transform":[{"filter":"datum.p=='TNFu'"}],"mark":{"type":"tick","orient":"horizontal","size":11,"thickness":1.2},"encoding":{"y":{"field":"h","type":"quantitative"}}},
{"data":{"name":"st"},"transform":[{"filter":"datum.p=='TNFu'"}],"mark":{"type":"tick","orient":"horizontal","size":20,"thickness":1.2},"encoding":{"y":{"field":"m","type":"quantitative"}}},
{"data":{"name":"pts"},"transform":[{"filter":"datum.p=='TNFu'"}],"mark":{"type":"square","size":18,"opacity":1}}
]},
{"width":153,"height":50,"encoding":{
"x":{"type":"quantitative","field":"x","title":null,"scale":{"domain":[0.475,5.49],"nice":false},"axis":{"values":[],"domainWidth":1.3,"ticks":false,"labels":false}},
"y":{"type":"quantitative","field":"y","title":null,"scale":{"domain":[0,600],"nice":false},"axis":{"values":[0,200,400,600],"labelFontSize":10,"tickSize":3,"domainWidth":1.3,"tickWidth":1.3,"labelPadding":1}},
"color":{"field":"g","type":"nominal","legend":null,"scale":{"domain":["Mock-T","1 µg","5 µg","10 µg","anti"],"range":["#bdbdbd","#f8cf8f","#f0a07c","#d9141e","#111111"]}}},
"layer":[
{"data":{"name":"br"},"transform":[{"filter":"datum.p=='TNFl'"}],"mark":{"type":"rule","strokeWidth":1.2},"encoding":{"x2":{"field":"xe"},"color":{"value":"#222"}}},
{"data":{"name":"br"},"transform":[{"filter":"datum.p=='TNFl'"}],"mark":{"type":"text","fontSize":10.5,"baseline":"bottom","dy":1},"encoding":{"x":{"field":"xm","type":"quantitative"},"text":{"field":"t"},"color":{"value":"#222"}}},
{"data":{"name":"st"},"transform":[{"filter":"datum.p=='TNFl'"}],"mark":{"type":"rule","strokeWidth":1.2},"encoding":{"y":{"field":"l","type":"quantitative"},"y2":{"field":"h"}}},
{"data":{"name":"st"},"transform":[{"filter":"datum.p=='TNFl'"}],"mark":{"type":"tick","orient":"horizontal","size":11,"thickness":1.2},"encoding":{"y":{"field":"l","type":"quantitative"}}},
{"data":{"name":"st"},"transform":[{"filter":"datum.p=='TNFl'"}],"mark":{"type":"tick","orient":"horizontal","size":11,"thickness":1.2},"encoding":{"y":{"field":"h","type":"quantitative"}}},
{"data":{"name":"st"},"transform":[{"filter":"datum.p=='TNFl'"}],"mark":{"type":"tick","orient":"horizontal","size":20,"thickness":1.2},"encoding":{"y":{"field":"m","type":"quantitative"}}},
{"data":{"name":"pts"},"transform":[{"filter":"datum.p=='TNFl'"}],"mark":{"type":"square","size":18,"opacity":1}}
]}
],"bounds":"flush","spacing":8.5,"resolve":{"scale":{"color":"independent"}}},
{"width":65,"height":0,"data":{"values":[]},"mark":"point"},
{"width":152,"height":121,"encoding":{
"x":{"type":"quantitative","field":"x","title":null,"scale":{"domain":[0.443,5.5],"nice":false},"axis":{"values":[],"domainWidth":1.3,"ticks":false,"labels":false}},
"y":{"type":"quantitative","field":"y","title":["Human IL-6","concentration (pg/ml)"],"scale":{"domain":[0,400],"nice":false},"axis":{"values":[0,100,200,300,400],"labelFontSize":10,"titleFontSize":10.5,"titleLineHeight":10.5,"tickSize":3,"domainWidth":1.3,"tickWidth":1.3,"labelPadding":1,"titleY":60,"titleX":-49}},
"color":{"field":"g","type":"nominal","legend":null,"scale":{"domain":["Mock-T","1 µg","5 µg","10 µg","anti"],"range":["#bdbdbd","#f8cf8f","#f0a07c","#d9141e","#111111"]}}},
"layer":[
{"data":{"name":"br"},"transform":[{"filter":"datum.p=='IL6'"}],"mark":{"type":"rule","strokeWidth":1.2},"encoding":{"x2":{"field":"xe"},"color":{"value":"#222"}}},
{"data":{"name":"br"},"transform":[{"filter":"datum.p=='IL6'"}],"mark":{"type":"text","fontSize":10.5,"baseline":"bottom","dy":1},"encoding":{"x":{"field":"xm","type":"quantitative"},"text":{"field":"t"},"color":{"value":"#222"}}},
{"data":{"name":"st"},"transform":[{"filter":"datum.p=='IL6'"}],"mark":{"type":"rule","strokeWidth":1.2},"encoding":{"y":{"field":"l","type":"quantitative"},"y2":{"field":"h"}}},
{"data":{"name":"st"},"transform":[{"filter":"datum.p=='IL6'"}],"mark":{"type":"tick","orient":"horizontal","size":11,"thickness":1.2},"encoding":{"y":{"field":"l","type":"quantitative"}}},
{"data":{"name":"st"},"transform":[{"filter":"datum.p=='IL6'"}],"mark":{"type":"tick","orient":"horizontal","size":11,"thickness":1.2},"encoding":{"y":{"field":"h","type":"quantitative"}}},
{"data":{"name":"st"},"transform":[{"filter":"datum.p=='IL6'"}],"mark":{"type":"tick","orient":"horizontal","size":20,"thickness":1.2},"encoding":{"y":{"field":"m","type":"quantitative"}}},
{"data":{"name":"pts"},"transform":[{"filter":"datum.p=='IL6'"}],"mark":{"type":"square","size":18,"opacity":1}}
]}
],"columns":3,"align":"none","bounds":"flush","spacing":{"row":8.5,"column":0},"resolve":{"scale":{"color":"independent"}}}
],"spacing":44,"resolve":{"scale":{"color":"independent"}}}
]}
